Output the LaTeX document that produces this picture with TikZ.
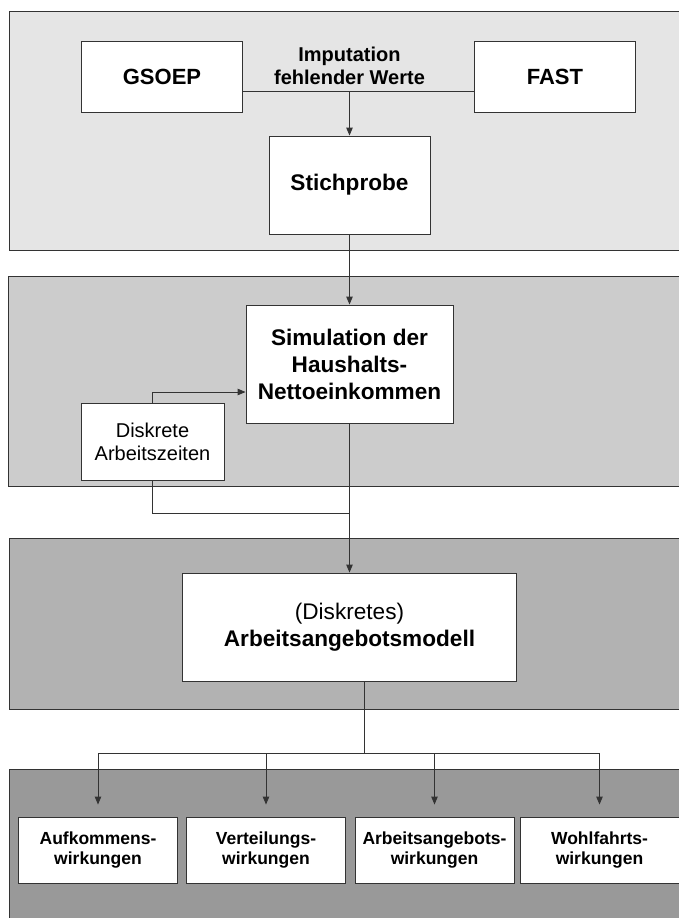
\documentclass[tikz,border=0pt]{standalone}
\usepackage{fontspec}
\setmainfont{Liberation Sans}
\usetikzlibrary{arrows.meta}
\usetikzlibrary{positioning}

\definecolor{bandA}{gray}{0.90}
\definecolor{bandB}{gray}{0.80}
\definecolor{bandC}{gray}{0.70}
\definecolor{bandD}{gray}{0.60}
\definecolor{rand}{gray}{0.2}

\begin{document}
\begin{tikzpicture}[
    x=1pt, y=-1pt,
    line width=0.9pt,
    every node/.style={
      inner sep=0pt,
      align=center
    },
    box/.style={
      rectangle,
      draw=rand,
      fill=white
    },
    band/.style={
      draw=rand
    },
    arr/.style={-{Triangle[length=8pt,width=6.5pt]}}
    ]
    \useasboundingbox (0,0) rectangle (679,918);
    \clip (0,0) rectangle (679,918);

    % Hintergrund
    \filldraw[band, fill=bandA] (9.5,11.5) rectangle (700,250);
    \filldraw[band, fill=bandB] (8,276) rectangle (700,486);
    \filldraw[band, fill=bandC] (9.5,538) rectangle (700,709);
    \filldraw[band, fill=bandD] (9.5,769) rectangle (700,940);

    \node[box, minimum width=161pt, minimum height=71pt,
      font=\bfseries\fontsize{22}{26}\selectfont] (gsoep) at (162,76.5) {GSOEP};
    \node[box, minimum width=161pt, minimum height=71pt,
      font=\bfseries\fontsize{22}{26}\selectfont] (fast) [right=231pt of gsoep] {FAST};
    \node[font=\bfseries\fontsize{20}{23}\selectfont] (imput) at (349.5,66) {Imputation\\fehlender Werte};
    \coordinate (imp) at (349.5,91);
    \node[box, minimum width=161pt, minimum height=98pt,
      font=\bfseries\fontsize{22.6}{27}\selectfont] (stich) at (349.5,185) {Stichprobe};

    \node[box, minimum width=207pt, minimum height=118pt,
      font=\bfseries\fontsize{22.6}{27}\selectfont] (sim) at (349.5,364)
      {Simulation der\\Haushalts-\\Nettoeinkommen};
    \node[box, minimum width=143pt, minimum height=77pt,
      font=\fontsize{20}{23}\selectfont] (disk) at (152.5,441.5)
      {Diskrete\\Arbeitszeiten};
    \coordinate (join) at (349.5,513);

    \node[box, minimum width=334pt, minimum height=108pt,
      font=\fontsize{22.6}{27}\selectfont] (modell) at (349.5,627)
      {(Diskretes)\\\textbf{Arbeitsangebotsmodell}};
    \coordinate (gabel) at (364,753);

    \foreach \n/\x/\t in {1/98/Aufkommens,2/266/Verteilungs,3/434.5/Arbeitsangebots,4/599.5/Wohlfahrts}{
      \node[box, minimum width=159pt, minimum height=66pt,
        font=\bfseries\fontsize{17.5}{19.5}\selectfont] (w\n) at (\x,850) {\t-\\wirkungen};
    }

    \draw[rand]
    (gsoep.east |- imp) -- (fast.west |- imp)
    (modell.south -| gabel) -- (gabel)
    (w1.north |- gabel) -- (w4.north |- gabel)
    ;
    \draw[rand, arr] (imp) -- (stich.north);
    \draw[rand, arr] (stich.south) -- (sim.north);
    \draw[rand, arr] (disk.north) |- ([yshift=-28pt]sim.west);
    \draw[rand] (disk.south) |- (join);
    \draw[rand, arr] (sim.south) -- (modell.north);
    \foreach \n in {1,...,4}{
      \draw[rand, arr] (w\n.north |- gabel) -- ([yshift=12pt]w\n.north);
    }
  \end{tikzpicture}
\end{document}
